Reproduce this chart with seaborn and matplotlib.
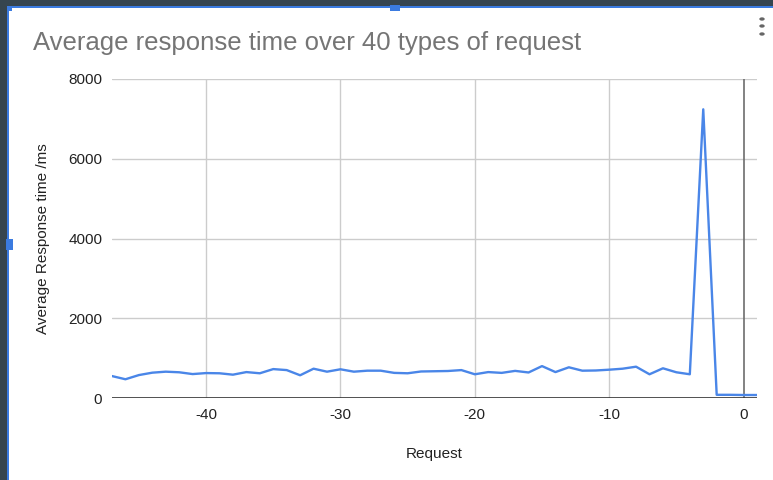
import matplotlib
matplotlib.use("Agg")
import matplotlib.pyplot as plt
from matplotlib.patches import Rectangle, Circle
import seaborn as sns
import pandas as pd

# Request offsets (most recent request = 0) and their average response times in ms
request = list(range(-47, 2))
avg_response_ms = [
    550, 470, 575, 635, 660, 645, 600, 625, 620, 585,
    650, 620, 725, 700, 570, 735, 660, 720, 660, 685,
    685, 630, 620, 665, 671, 677, 700, 595, 650, 630,
    680, 640, 800, 650, 770, 685, 690, 710, 735, 785,
    595, 745, 645, 595, 7240, 80, 80, 75, 75,
]
x_ticks = [-40, -30, -20, -10, 0]
y_ticks = [0, 2000, 4000, 6000, 8000]

title = "Average response time over 40 types of request"
x_label = "Request"
y_label = "Average Response time /ms"

df = pd.DataFrame({"Request": request, "Average": avg_response_ms})

sns.set_theme(style="white")
plt.rcParams["font.family"] = ["Liberation Sans", "DejaVu Sans"]

W, H = 773, 480
fig = plt.figure(figsize=(W / 100, H / 100), dpi=100)
fig.patch.set_facecolor("white")


def fx(x):
    return x / W


def fy(y):
    return 1 - y / H


def px_rect(x0, y0, x1, y1, color):
    # rectangle given in pixel coordinates (origin top-left)
    fig.add_artist(Rectangle((fx(x0), fy(y1)), fx(x1) - fx(x0), fy(y0) - fy(y1),
                             transform=fig.transFigure, facecolor=color,
                             edgecolor="none"))


# plot area in pixel bounds
left, right, top, bottom = 112, 757, 79, 398
ax = fig.add_axes([fx(left), fy(bottom), fx(right) - fx(left), fy(top) - fy(bottom)])

sns.lineplot(data=df, x="Request", y="Average", ax=ax, color="#4a86e8",
             linewidth=1.7, zorder=5)

ax.set_xlim(-47, 1)
ax.set_ylim(0, 8000)
ax.set_xticks(x_ticks)
ax.set_yticks(y_ticks)
ax.set_xticklabels([str(t) for t in x_ticks])
ax.set_yticklabels([str(t) for t in y_ticks])

for s in ax.spines.values():
    s.set_visible(False)

# gridlines
for t in y_ticks[1:]:
    ax.axhline(t, color="#cccccc", linewidth=1.0, zorder=1)
for t in x_ticks[:-1]:
    ax.axvline(t, color="#cccccc", linewidth=1.0, zorder=1)
ax.axvline(0, color="#6d6d6d", linewidth=1.2, zorder=2)
ax.axhline(0, color="#333333", linewidth=1.2, zorder=3)

ax.tick_params(axis="both", length=0, labelsize=11, colors="#222222")
ax.tick_params(axis="y", pad=7)
ax.tick_params(axis="x", pad=7)
ax.set_xlabel(x_label, fontsize=11, color="#222222", labelpad=18)
ax.set_ylabel(y_label, fontsize=11, color="#222222", labelpad=13)

fig.text(fx(33), fy(50), title, fontsize=18.5, color="#757575",
         ha="left", va="baseline")

# surrounding editor frame and selection handles
frame = "#36454f"
sel = "#3b7be0"
px_rect(0, 0, W, 6, frame)
px_rect(0, 0, 7, H, frame)
px_rect(7, 6, W, 7.5, sel)
px_rect(7, 6, 8.5, H, sel)
px_rect(7, 6, 12, 11, sel)
px_rect(390, 5.5, 400, 11, sel)
px_rect(6.5, 239, 12.5, 250, sel)

# chart menu dots
for yy in (19, 26, 34):
    fig.add_artist(Circle((fx(762), fy(yy)), radius=2.7 / W, transform=fig.transFigure,
                          facecolor="#666666", edgecolor="none"))

fig.savefig("out.png", dpi=100)
